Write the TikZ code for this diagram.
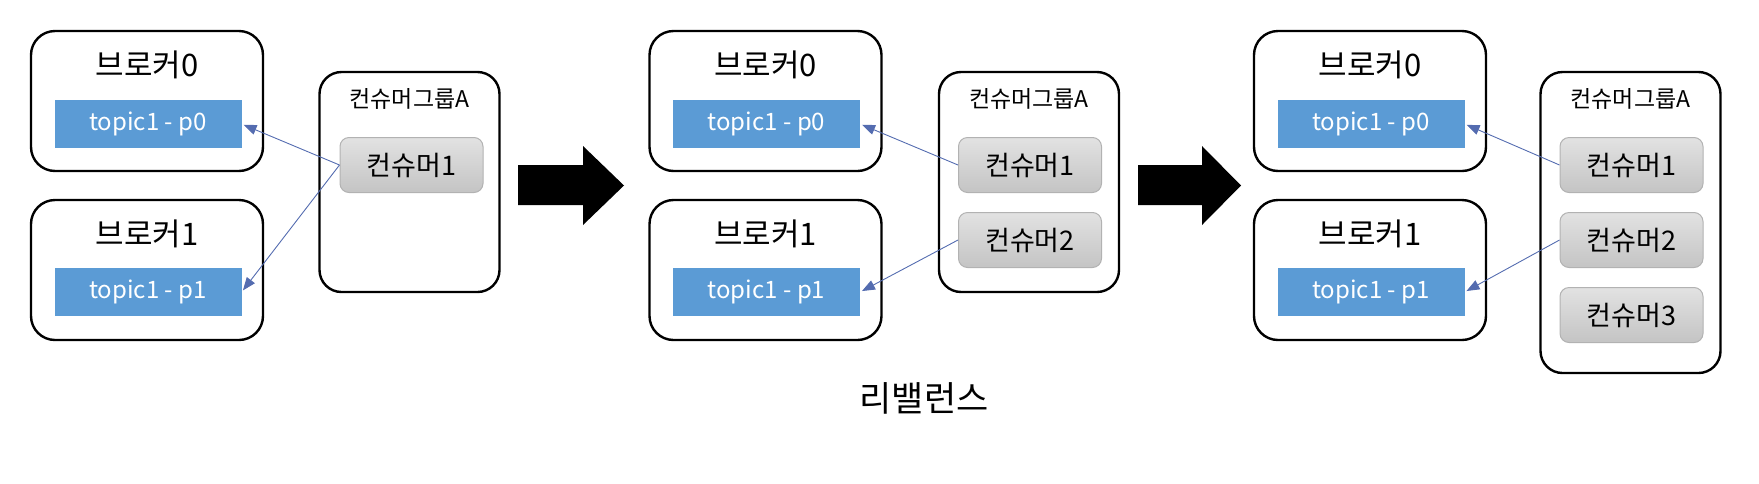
\documentclass[tikz,border=0pt]{standalone}
\usepackage{fontspec}
\setmainfont{Noto Sans CJK KR}
\usetikzlibrary{arrows.meta}
\definecolor{topicblue}{RGB}{91,155,213}
\definecolor{linkblue}{RGB}{84,108,176}
\definecolor{ctop}{RGB}{226,226,226}
\definecolor{cbot}{RGB}{196,196,196}
\definecolor{cline}{RGB}{178,178,178}
\begin{document}
\begin{tikzpicture}[x=1pt, y=-1pt,
  >={Triangle[length=13pt,width=10pt]},
  broker/.style={draw, line width=2.4pt, rounded corners=24pt, minimum width=232pt, minimum height=140pt, inner sep=0pt},
  group/.style={draw, line width=2.4pt, rounded corners=22pt, minimum width=180pt, inner sep=0pt},
  topic/.style={fill=topicblue, text=white, minimum width=187pt, minimum height=48pt, inner sep=0pt, font=\fontsize{24}{28}\selectfont},
  consumer/.style={draw=cline, line width=1pt, rounded corners=9pt, top color=ctop, bottom color=cbot, minimum width=143pt, minimum height=55pt, inner sep=0pt, font=\fontsize{27}{32}\selectfont},
  btitle/.style={font=\fontsize{31}{36}\selectfont, inner sep=0pt},
  gtitle/.style={font=\fontsize{23}{28}\selectfont, inner sep=0pt},
  link/.style={draw=linkblue, line width=0.9pt, shorten >=2pt}]
\useasboundingbox (0,0) rectangle (1759,483);

% before
\node[broker] (b0-1) at (147, 101) {};
\node[broker] (b1-1) at (147, 270) {};
\node[btitle] (t0-1) at (147, 65)  {브로커0};
\node[btitle] (t1-1) at (147, 234) {브로커1};
\node[topic]  (p0-1) at (148, 124) {topic1 - p0};
\node[topic]  (p1-1) at (148, 292) {topic1 - p1};
\node[group, minimum height=220pt] (g-1) at (409.5, 182) {};
\node[gtitle] (gt-1) at (409.5, 99) {컨슈머그룹A};
\node[consumer] (c1-1) at (411.5, 165) {컨슈머1};

% step arrow
\fill (518,165) -- (583,165) -- (583,146) -- (624,185.5) -- (583,225) -- (583,205) -- (518,205) -- cycle;

% one consumer added
\node[broker] (b0-2) at (765.5, 101) {};
\node[broker] (b1-2) at (765.5, 270) {};
\node[btitle] (t0-2) at (765.5, 65)  {브로커0};
\node[btitle] (t1-2) at (765.5, 234) {브로커1};
\node[topic]  (p0-2) at (766.5, 124) {topic1 - p0};
\node[topic]  (p1-2) at (766.5, 292) {topic1 - p1};
\node[group, minimum height=220pt] (g-2) at (1029, 182) {};
\node[gtitle] (gt-2) at (1029, 99) {컨슈머그룹A};
\node[consumer] (c1-2) at (1030, 165) {컨슈머1};
\node[consumer] (c2-2) at (1030, 240) {컨슈머2};

% step arrow
\fill (1138,165) -- (1202,165) -- (1202,146) -- (1241,185.5) -- (1202,225) -- (1202,205) -- (1138,205) -- cycle;

% two consumers added
\node[broker] (b0-3) at (1370, 101) {};
\node[broker] (b1-3) at (1370, 270) {};
\node[btitle] (t0-3) at (1370, 65)  {브로커0};
\node[btitle] (t1-3) at (1370, 234) {브로커1};
\node[topic]  (p0-3) at (1371, 124) {topic1 - p0};
\node[topic]  (p1-3) at (1371, 292) {topic1 - p1};
\node[group, minimum height=301pt] (g-3) at (1630.5, 222.5) {};
\node[gtitle] (gt-3) at (1630.5, 99) {컨슈머그룹A};
\node[consumer] (c1-3) at (1631.5, 165) {컨슈머1};
\node[consumer] (c2-3) at (1631.5, 240) {컨슈머2};
\node[consumer] (c3-3) at (1631.5, 315) {컨슈머3};

\node[font=\fontsize{35}{40}\selectfont, inner sep=0pt] (rb) at (924, 398) {리밸런스};

\path[->] (c1-1.west) edge[link] (p0-1.east) ;
\path[->] (c1-1.west) edge[link] (p1-1.east) ;
\path[->] (c1-2.west) edge[link] (p0-2.east) ;
\path[->] (c2-2.west) edge[link] (p1-2.east) ;
\path[->] (c1-3.west) edge[link] (p0-3.east) ;
\path[->] (c2-3.west) edge[link] (p1-3.east) ;

\end{tikzpicture}
\end{document}
